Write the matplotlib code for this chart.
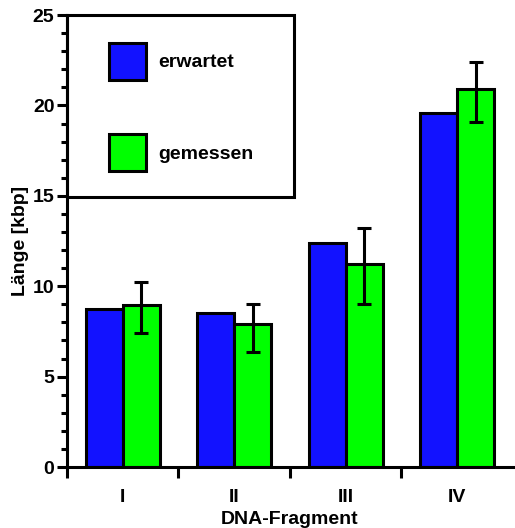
import numpy as np
import matplotlib
matplotlib.use('Agg')
import matplotlib.pyplot as plt
from matplotlib.patches import Patch, Rectangle

plt.rcParams['font.family'] = ['Liberation Sans', 'DejaVu Sans']
plt.rcParams['font.weight'] = 'bold'

fragments = ['I', 'II', 'III', 'IV']
erwartet = [8.73, 8.50, 12.37, 19.60]
gemessen = [8.98, 7.89, 11.21, 20.89]
err_low = [1.55, 1.51, 2.20, 1.83]
err_high = [1.23, 1.13, 2.03, 1.49]

blue = '#1212FF'
green = '#00FF00'
lw = 2.2

fig = plt.figure(figsize=(5.15, 5.28), dpi=100)
ax = fig.add_axes([0.130, 0.1155, 0.866, 0.856])

x = np.arange(len(fragments))
w = 0.333
ax.bar(x - w/2, erwartet, w, color=blue, edgecolor='black', linewidth=lw, zorder=2)
ax.bar(x + w/2, gemessen, w, color=green, edgecolor='black', linewidth=lw, zorder=2)
ax.errorbar(x + w/2, gemessen, yerr=[err_low, err_high], fmt='none', ecolor='black',
            elinewidth=lw, capsize=5, capthick=lw, zorder=3)

ax.set_xlim(-0.5, 3.5)
ax.set_ylim(0, 25)

for s in ['top', 'right']:
    ax.spines[s].set_visible(False)
for s in ['left', 'bottom']:
    ax.spines[s].set_linewidth(lw)

ax.set_yticks(np.arange(0, 26, 5))
ax.set_yticks(np.arange(0, 26, 1), minor=True)
ax.tick_params(axis='y', which='major', length=7.5, width=lw, labelsize=14, pad=1.5)
ax.tick_params(axis='y', which='minor', length=4.3, width=lw)

ax.set_xticks(x)
ax.set_xticklabels(fragments)
ax.set_xticks(np.arange(-0.5, 3.5, 1), minor=True)
ax.tick_params(axis='x', which='major', length=0, labelsize=14, pad=15.5)
ax.tick_params(axis='x', which='minor', length=8, width=lw)

ax.set_xlabel('DNA-Fragment', fontsize=14, fontweight='bold', labelpad=4)
ax.set_ylabel('Länge [kbp]', fontsize=14, fontweight='bold', labelpad=3)

# legend box
ax.add_patch(Rectangle((0, 0.597), 0.509, 0.403, transform=ax.transAxes, fill=False,
                       edgecolor='black', linewidth=lw, zorder=4, clip_on=False))
handles = [Patch(facecolor=blue, edgecolor='black', linewidth=lw),
           Patch(facecolor=green, edgecolor='black', linewidth=lw)]
ax.legend(handles, ['erwartet', 'gemessen'], loc='upper left', bbox_to_anchor=(0.094, 0.938),
          frameon=False, borderpad=0, borderaxespad=0, handlelength=1.9, handleheight=2.55,
          handletextpad=0.62, labelspacing=2.78, prop={'size': 14, 'weight': 'bold'})

fig.savefig('out.png', dpi=100)
